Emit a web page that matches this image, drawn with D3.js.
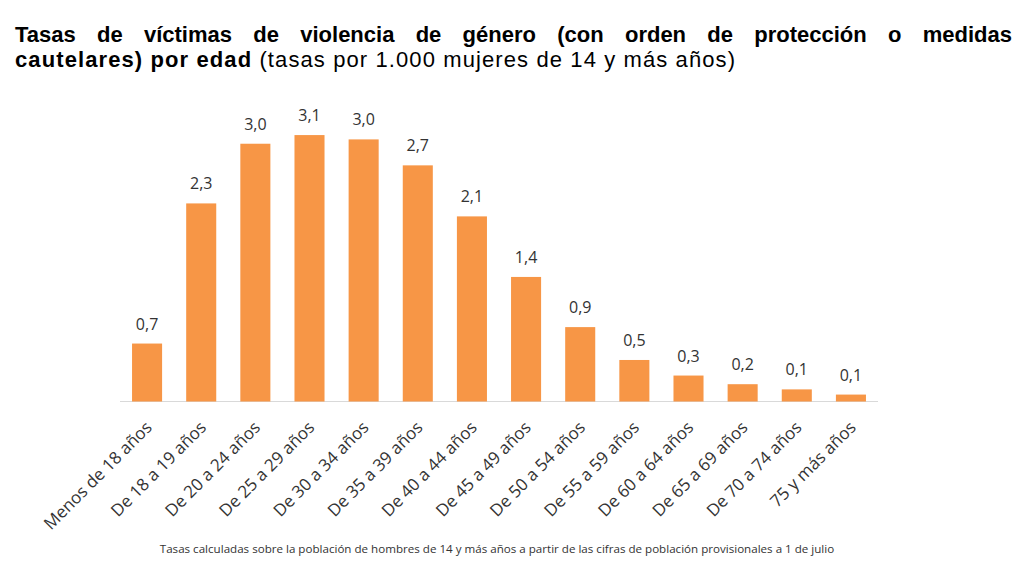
<!DOCTYPE html>
<html><head><meta charset="utf-8">
<script src="https://cdn.jsdelivr.net/npm/d3@7"></script>
<style>body{margin:0;background:#fff}svg{display:block}</style>
</head><body>
<svg id="c" width="1024" height="576"></svg>
<script>
const categories = ["Menos de 18 años","De 18 a 19 años","De 20 a 24 años","De 25 a 29 años","De 30 a 34 años","De 35 a 39 años","De 40 a 44 años","De 45 a 49 años","De 50 a 54 años","De 55 a 59 años","De 60 a 64 años","De 65 a 69 años","De 70 a 74 años","75 y más años"];
const values = [0.67, 2.29, 2.98, 3.08, 3.03, 2.73, 2.14, 1.44, 0.86, 0.48, 0.30, 0.20, 0.14, 0.08];
const titleLine1 = "Tasas de víctimas de violencia de género (con orden de protección o medidas";
const titleLine2Bold = "cautelares) por edad";
const titleLine2Normal = " (tasas por 1.000 mujeres de 14 y más años)";
const footnote = "Tasas calculadas sobre la población de hombres de 14 y más años a partir de las cifras de población provisionales a 1 de julio";

const svg = d3.select("#c");
const x = d3.scaleBand().domain(categories).range([120, 878]).paddingInner(0.445).paddingOuter(0.2225);
const y = d3.scaleLinear().domain([0, 3.5]).range([401.5, 98.75]);
const fmt = v => d3.format(".1f")(v).replace(".", ",");

// Title line 1 justified
const tFont = "'Liberation Sans', Arial, sans-serif";
const words = titleLine1.split(" ");
const t1 = svg.append("text").attr("y", 42).attr("font-family", tFont).attr("font-size", 22).attr("font-weight", "bold").attr("fill", "#000");
const spans = words.map(w => t1.append("tspan").text(w));
const widths = spans.map(s => s.node().getComputedTextLength());
const total = d3.sum(widths);
const left = 15, right = 1012;
const gap = (right - left - total) / (words.length - 1);
let cx = left;
spans.forEach((s, i) => { s.attr("x", cx); cx += widths[i] + gap; });

const t2 = svg.append("text").attr("x", 15).attr("y", 67).attr("font-family", tFont).attr("font-size", 22).attr("fill", "#000");
t2.append("tspan").attr("font-weight", "bold").text(titleLine2Bold);
t2.append("tspan").attr("font-weight", "normal").text(titleLine2Normal);
t2.attr("textLength", 720).attr("lengthAdjust", "spacing");

// axis line
svg.append("line").attr("x1", 120).attr("x2", 878).attr("y1", y(0)).attr("y2", y(0)).attr("stroke", "#d9d9d9").attr("stroke-width", 1);

// bars
svg.selectAll("rect.bar").data(values).join("rect").attr("class", "bar")
  .attr("x", (d, i) => x(categories[i])).attr("width", x.bandwidth())
  .attr("y", d => y(d)).attr("height", d => y(0) - y(d)).attr("fill", "#F79646");

// value labels
svg.selectAll("text.val").data(values).join("text").attr("class", "val")
  .attr("x", (d, i) => x(categories[i]) + x.bandwidth() / 2).attr("y", d => y(d) - 14)
  .attr("text-anchor", "middle").attr("font-family", "'Open Sans', sans-serif").attr("font-size", 16).attr("fill", "#333")
  .text(d => fmt(d));

// category labels
svg.selectAll("text.cat").data(categories).join("text").attr("class", "cat")
  .attr("transform", d => `translate(${x(d) + x.bandwidth() / 2 + 6},${y(0) + 27}) rotate(-45)`)
  .attr("text-anchor", "end").attr("font-family", "'Open Sans', sans-serif").attr("font-size", 17).attr("fill", "#333")
  .text(d => d);

// footnote
svg.append("text").attr("x", 497).attr("y", 553).attr("text-anchor", "middle").attr("font-family", "'Open Sans', sans-serif").attr("font-size", 11.6).attr("fill", "#333").text(footnote);
</script>
</body></html>
